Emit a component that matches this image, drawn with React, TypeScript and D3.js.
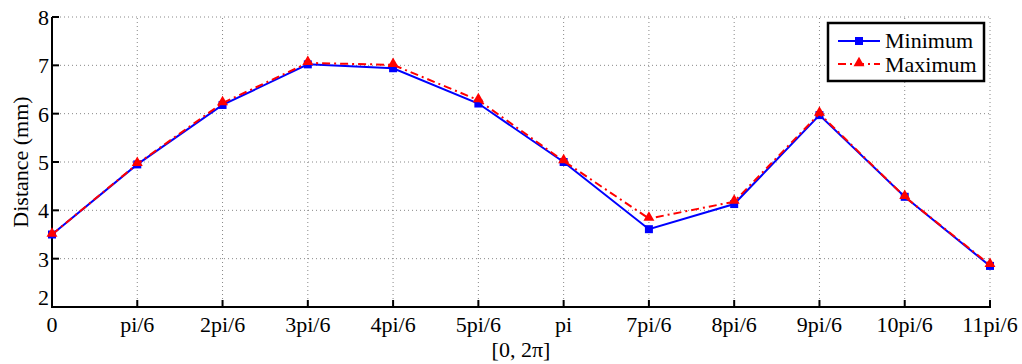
import React from "react";
import * as d3 from "d3";

const categories = ["0", "pi/6", "2pi/6", "3pi/6", "4pi/6", "5pi/6", "pi", "7pi/6", "8pi/6", "9pi/6", "10pi/6", "11pi/6"];
const minimumValues = [3.5, 4.95, 6.18, 7.02, 6.94, 6.21, 5.0, 3.61, 4.13, 5.97, 4.28, 2.85];
const maximumValues = [3.5, 4.96, 6.22, 7.05, 7.01, 6.28, 5.02, 3.83, 4.18, 6.0, 4.28, 2.87];
const yTicks = [2, 3, 4, 5, 6, 7, 8];
const seriesNames = ["Minimum", "Maximum"];

const W = 1022, H = 364;
const M = { left: 52, right: 32, top: 17, bottom: 57 };
const FONT = "Liberation Serif, DejaVu Serif, serif";

export default function App() {
  const x = d3.scaleLinear().domain([0, categories.length - 1]).range([M.left, W - M.right]);
  const y = d3.scaleLinear().domain([2, 8]).range([H - M.bottom, M.top]);
  const line = d3.line<number>().x((_, i) => x(i)).y((d) => y(d));
  const tri = d3.symbol().type(d3.symbolTriangle).size(52)();
  const x0 = x.range()[0], x1 = x.range()[1], yb = y.range()[0], yt = y.range()[1];
  const ts = { fontFamily: FONT, fontSize: "22px" };
  return (
    <svg width={W} height={H} style={{ position: "absolute", left: 0, top: 0, background: "#fff" }}>
      {/* grid */}
      <g stroke="#888" strokeWidth={1} strokeDasharray="1,3">
        {yTicks.slice(1).map((t) => (
          <line key={"gy" + t} x1={x0} x2={x1} y1={y(t)} y2={y(t)} />
        ))}
        {categories.slice(1).map((_, i) => (
          <line key={"gx" + i} x1={x(i + 1)} x2={x(i + 1)} y1={yb} y2={yt} />
        ))}
      </g>
      {/* axes */}
      <g stroke="#000" strokeWidth={2}>
        <line x1={x0} x2={x0} y1={yb + 1} y2={yt} />
        <line x1={x0 - 1} x2={x1 + 1} y1={yb} y2={yb} />
        {yTicks.map((t) => (
          <line key={"ty" + t} x1={x0} x2={x0 + 7} y1={y(t)} y2={y(t)} />
        ))}
        {categories.map((_, i) => (
          <line key={"tx" + i} x1={x(i)} x2={x(i)} y1={yb} y2={yb - 7} />
        ))}
      </g>
      <g fill="#000">
        {yTicks.map((t) => (
          <text key={"ly" + t} style={ts} x={x0 - 3} y={y(t) + (t === 2 ? -2 : 8)} textAnchor="end">{t}</text>
        ))}
        {categories.map((c, i) => (
          <text key={"lx" + i} style={ts} x={x(i)} y={yb + 25} textAnchor="middle">{c}</text>
        ))}
        <text style={ts} x={(x0 + x1) / 2} y={H - 7} textAnchor="middle">[0, 2π]</text>
        <text style={ts} transform={`translate(28,${(yb + yt) / 2}) rotate(-90)`} textAnchor="middle">Distance (mm)</text>
      </g>
      {/* series */}
      <path d={line(minimumValues) || ""} fill="none" stroke="#0000ff" strokeWidth={2} />
      {minimumValues.map((v, i) => (
        <rect key={"m" + i} x={x(i) - 4} y={y(v) - 4} width={8} height={8} fill="#0000ff" />
      ))}
      <path d={line(maximumValues) || ""} fill="none" stroke="#ff0000" strokeWidth={2} strokeDasharray="8,4,2,4" />
      {maximumValues.map((v, i) => (
        <path key={"M" + i} d={tri || ""} transform={`translate(${x(i)},${y(v) - 1})`} fill="#ff0000" />
      ))}
      {/* legend */}
      <g>
        <rect x={828} y={23} width={156} height={58} fill="#fff" stroke="#000" strokeWidth={2.5} />
        <line x1={838} x2={880} y1={41} y2={41} stroke="#0000ff" strokeWidth={2} />
        <rect x={855} y={37} width={8} height={8} fill="#0000ff" />
        <line x1={838} x2={880} y1={64} y2={64} stroke="#ff0000" strokeWidth={2} strokeDasharray="8,4,2,4" />
        <path d={tri || ""} transform="translate(859,63)" fill="#ff0000" />
        <text style={ts} x={885} y={48}>{seriesNames[0]}</text>
        <text style={ts} x={885} y={72}>{seriesNames[1]}</text>
      </g>
    </svg>
  );
}
